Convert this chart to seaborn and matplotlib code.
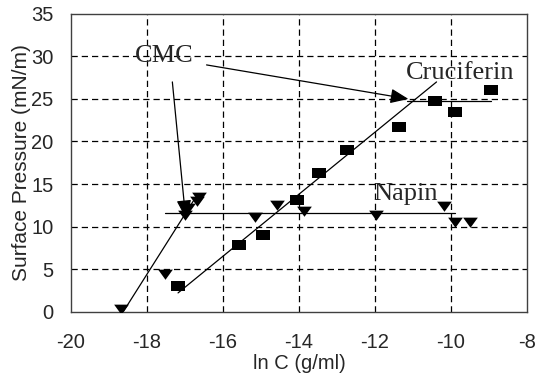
import numpy as np
import pandas as pd
import matplotlib
matplotlib.use("Agg")
import matplotlib.pyplot as plt
import seaborn as sns

# ---- data ----
cruc_x = [-17.19, -15.57, -14.95, -14.04, -13.48, -12.74, -11.36, -10.42, -9.90, -8.96]
cruc_y = [2.96, 7.82, 9.04, 13.15, 16.3, 19.0, 21.7, 24.76, 23.5, 26.0]

napin_x = [-18.68, -17.52, -17.01, -16.92, -16.69, -16.62, -15.16, -14.58, -13.86, -11.97, -10.18, -9.90, -9.50]
napin_y = [0.3, 4.37, 11.3, 12.2, 13.0, 13.5, 11.1, 12.5, 11.8, 11.3, 12.45, 10.56, 10.56]

# fitted line segments (endpoints)
napin_rise_x = [-18.62, -16.75]
napin_rise_y = [0.0, 13.2]
napin_plat_x = [-17.53, -9.89]
napin_plat_y = [11.6, 11.6]
cruc_rise_x = [-17.18, -10.38]
cruc_rise_y = [2.2, 27.0]
cruc_plat_x = [-11.17, -8.96]
cruc_plat_y = [24.76, 24.76]

x_ticks = [-20, -18, -16, -14, -12, -10, -8]
y_ticks = [0, 5, 10, 15, 20, 25, 30, 35]

sns.set_style("white")
plt.rcParams["font.family"] = ["Liberation Sans", "DejaVu Sans"]

fig = plt.figure(figsize=(5.45, 3.75), dpi=100)
ax = fig.add_axes([0.130, 0.169, 0.837, 0.794])

# grid
for xv in x_ticks[1:-1]:
    ax.axvline(xv, color="black", lw=0.9, ls=(0, (5, 3.2)), zorder=0)
for yv in y_ticks[1:-1]:
    ax.axhline(yv, color="black", lw=0.9, ls=(0, (5, 3.2)), zorder=0)

line_kw = dict(color="black", lw=0.9, legend=False, zorder=2)
for xs, ys in [(napin_rise_x, napin_rise_y), (napin_plat_x, napin_plat_y),
               (cruc_rise_x, cruc_rise_y), (cruc_plat_x, cruc_plat_y)]:
    sns.lineplot(x=xs, y=ys, ax=ax, **line_kw)

rect = [(-0.5, -0.37), (0.5, -0.37), (0.5, 0.37), (-0.5, 0.37), (-0.5, -0.37)]
tri = [(-0.5, 0.33), (0.5, 0.33), (0.0, -0.36), (-0.5, 0.33)]

sns.scatterplot(x=cruc_x, y=cruc_y, ax=ax, marker=rect, s=92, color="black",
                edgecolor="black", linewidth=0, zorder=3)
sns.scatterplot(x=napin_x, y=napin_y, ax=ax, marker=tri, s=112, color="black",
                edgecolor="black", linewidth=0, zorder=3)

serif = ["Liberation Serif", "DejaVu Serif"]
ax.text(-17.53, 30.0, "CMC", family=serif, fontsize=19, ha="center", va="center", zorder=4)
ax.text(-9.76, 28.0, "Cruciferin", family=serif, fontsize=19, ha="center", va="center", zorder=4)
ax.text(-11.2, 13.8, "Napin", family=serif, fontsize=19, ha="center", va="center", zorder=4)

arrow_kw = dict(arrowstyle="-|>,head_length=1.1,head_width=0.45", color="black", lw=0.9,
                shrinkA=0, shrinkB=0)
ax.annotate("", xy=(-11.12, 25.0), xytext=(-16.43, 29.0), arrowprops=arrow_kw, zorder=5)
ax.annotate("", xy=(-16.98, 11.0), xytext=(-17.33, 27.0), arrowprops=arrow_kw, zorder=2)

ax.set_xlim(-20, -8)
ax.set_ylim(0, 35)
ax.set_xticks(x_ticks)
ax.set_yticks(y_ticks)
ax.set_xticklabels([str(v) for v in x_ticks])
ax.set_yticklabels([str(v) for v in y_ticks])
ax.tick_params(direction="inout", length=9, width=0.9, color="#404040",
               labelsize=14.5)
ax.tick_params(axis="y", pad=8)
ax.tick_params(axis="x", pad=11)
for s in ax.spines.values():
    s.set_color("#404040")
    s.set_linewidth(1.0)
    s.set_visible(True)

ax.set_xlabel("ln C (g/ml)", fontsize=14.5, labelpad=1)
ax.set_ylabel("Surface Pressure (mN/m)", fontsize=15, labelpad=0)

fig.savefig("out.png", dpi=100)
